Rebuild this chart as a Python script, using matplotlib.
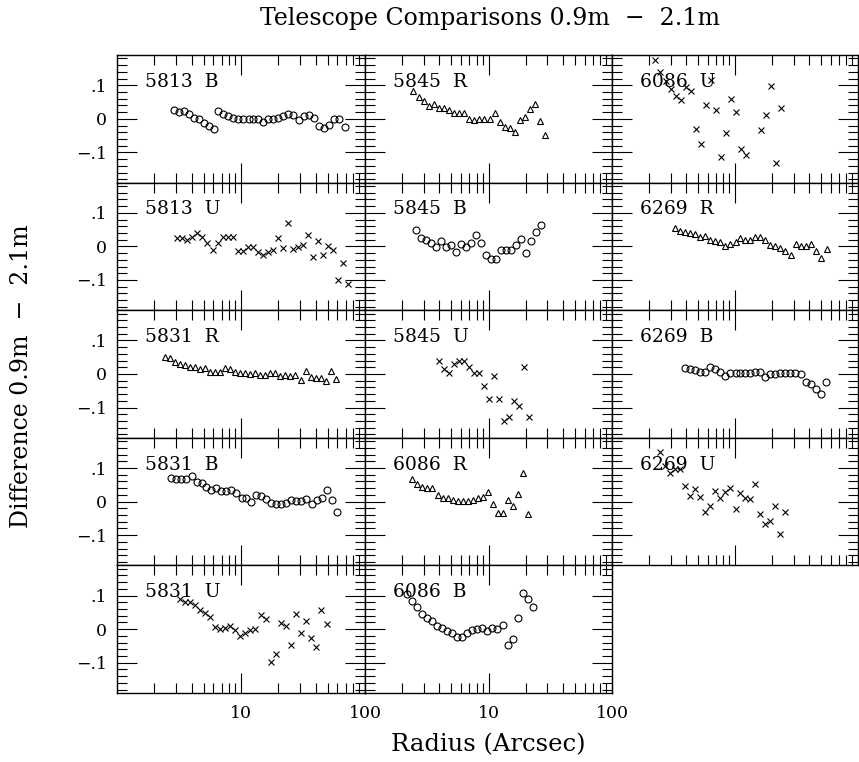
import matplotlib
matplotlib.use("Agg")
import matplotlib.pyplot as plt
from matplotlib.ticker import FixedLocator, FixedFormatter, LogLocator, NullFormatter, MultipleLocator

plt.rcParams['font.family'] = ['DejaVu Serif']

# ---------------- data (radius in arcsec, difference 0.9m - 2.1m) ----------------
r_5813_B = [2.88, 3.16, 3.47, 3.81, 4.18, 4.58, 5.03, 5.52, 6.06, 6.56, 7.20, 7.90, 8.67, 9.51, 10.4, 11.5,
            12.6, 13.8, 15.1, 16.6, 18.2, 20.0, 21.9, 24.1, 26.4, 29.4, 32.2, 35.3, 38.8, 42.6, 46.7, 51.3,
            56.2, 61.7, 69.0]
d_5813_B = [0.026, 0.020, 0.022, 0.013, 0.002, 0.0, -0.013, -0.020, -0.031, 0.022, 0.013, 0.007, 0.002, 0.0,
            0.0, 0.0, 0.0, -0.002, -0.010, 0.0, 0.0, 0.003, 0.007, 0.013, 0.010, -0.005, 0.008, 0.010, 0.002,
            -0.020, -0.027, -0.017, 0.0, 0.0, -0.023]

r_5813_U = [3.05, 3.35, 3.67, 4.03, 4.42, 4.85, 5.32, 5.91, 6.49, 7.12, 7.81, 8.57, 9.40, 10.3, 11.3, 12.4,
            13.6, 15.0, 16.4, 18.0, 19.8, 21.7, 23.9, 26.3, 28.8, 31.6, 34.7, 38.1, 41.8, 45.9, 50.3, 55.2,
            60.6, 66.5, 72.9]
d_5813_U = [0.025, 0.025, 0.020, 0.027, 0.039, 0.027, 0.011, -0.010, 0.010, 0.027, 0.027, 0.027, -0.015,
            -0.015, -0.002, -0.002, -0.017, -0.026, -0.017, -0.010, 0.025, -0.004, 0.070, -0.009, -0.002,
            0.003, 0.035, -0.033, 0.016, -0.026, 0.0, -0.012, -0.100, -0.048, -0.113]

r_5831_R = [2.42, 2.66, 2.92, 3.20, 3.51, 3.86, 4.23, 4.70, 5.16, 5.66, 6.21, 6.81, 7.47, 8.20, 9.00, 9.88,
            10.8, 11.9, 13.0, 14.3, 15.7, 17.2, 18.9, 20.8, 22.8, 25.0, 27.4, 30.5, 33.4, 36.7, 40.3, 44.2,
            48.5, 53.5, 58.7]
d_5831_R = [0.050, 0.048, 0.036, 0.030, 0.026, 0.021, 0.021, 0.014, 0.017, 0.007, 0.007, 0.007, 0.017,
            0.014, 0.007, 0.004, 0.004, -0.001, 0.004, -0.003, -0.003, 0.004, 0.004, -0.006, -0.003, -0.006,
            -0.003, -0.019, 0.009, -0.009, -0.011, -0.011, -0.021, 0.009, -0.016]

r_5831_B = [2.74, 3.01, 3.30, 3.62, 4.03, 4.42, 4.85, 5.25, 5.76, 6.32, 6.94, 7.62, 8.36, 9.17, 10.1, 11.0,
            12.1, 13.3, 14.6, 16.0, 17.6, 19.3, 21.1, 23.2, 25.5, 27.9, 30.7, 33.6, 37.4, 41.0, 45.0, 49.4,
            54.2, 59.5]
d_5831_B = [0.070, 0.068, 0.068, 0.068, 0.075, 0.058, 0.056, 0.043, 0.035, 0.041, 0.033, 0.033, 0.036,
            0.025, 0.011, 0.011, -0.001, 0.019, 0.016, 0.009, -0.003, -0.008, -0.008, -0.004, 0.004, 0.002,
            0.002, 0.007, -0.006, 0.004, 0.011, 0.035, 0.004, -0.030]

r_5831_U = [3.22, 3.54, 3.88, 4.26, 4.67, 5.12, 5.62, 6.17, 6.77, 7.43, 8.15, 8.95, 9.82, 10.8, 11.8, 13.0,
            14.5, 15.9, 17.5, 19.2, 21.0, 23.1, 25.3, 27.8, 30.5, 33.4, 36.7, 40.3, 44.2, 49.1]
d_5831_U = [0.090, 0.080, 0.080, 0.073, 0.056, 0.049, 0.036, 0.007, 0.0, 0.004, 0.010, -0.003, -0.021,
            -0.011, -0.003, 0.0, 0.041, 0.029, -0.099, -0.074, 0.017, 0.010, -0.047, 0.046, -0.011, 0.025,
            -0.027, -0.054, 0.058, 0.014]

r_5845_R = [2.47, 2.75, 3.02, 3.31, 3.64, 4.00, 4.39, 4.82, 5.29, 5.81, 6.38, 7.01, 7.70, 8.45, 9.28, 10.2,
            11.2, 12.3, 13.5, 14.8, 16.3, 17.9, 19.6, 21.5, 23.7, 26.0, 28.5]
d_5845_R = [0.082, 0.065, 0.052, 0.037, 0.045, 0.032, 0.032, 0.027, 0.016, 0.018, 0.016, 0.0, -0.004, 0.0,
            0.0, 0.0, 0.018, -0.009, -0.025, -0.028, -0.038, -0.004, 0.006, 0.030, 0.045, -0.006, -0.048]

r_5845_B = [2.57, 2.82, 3.09, 3.40, 3.73, 4.10, 4.50, 4.94, 5.42, 5.96, 6.54, 7.18, 7.89, 8.66, 9.51, 10.4,
            11.5, 12.6, 13.8, 15.2, 16.7, 18.3, 20.1, 22.1, 24.2, 26.6]
d_5845_B = [0.048, 0.026, 0.019, 0.011, -0.003, 0.017, -0.003, 0.004, -0.016, 0.007, -0.003, 0.011, 0.033,
            0.009, -0.025, -0.038, -0.038, -0.011, -0.011, -0.011, 0.004, 0.021, -0.019, 0.017, 0.043, 0.063]

r_5845_U = [3.97, 4.36, 4.79, 5.26, 5.78, 6.35, 6.97, 7.65, 8.40, 9.23, 10.1, 11.1, 12.2, 13.4, 14.7, 16.2,
            17.8, 19.5, 21.4]
d_5845_U = [0.038, 0.014, 0.002, 0.031, 0.040, 0.040, 0.022, 0.002, 0.004, -0.037, -0.073, -0.006, -0.075,
            -0.141, -0.128, -0.079, -0.096, 0.022, -0.128]

r_6086_R = [2.41, 2.65, 2.91, 3.19, 3.51, 3.90, 4.28, 4.70, 5.16, 5.67, 6.23, 6.84, 7.51, 8.25, 9.06, 9.95,
            10.9, 12.0, 13.2, 14.5, 15.9, 17.4, 19.2, 21.0]
d_6086_R = [0.066, 0.051, 0.043, 0.040, 0.040, 0.019, 0.011, 0.011, 0.004, 0.002, 0.001, 0.001, 0.004,
            0.011, 0.014, 0.030, -0.006, -0.035, -0.035, 0.006, -0.014, 0.024, 0.085, -0.038]

r_6086_B = [2.18, 2.40, 2.63, 2.89, 3.17, 3.49, 3.83, 4.20, 4.62, 5.07, 5.56, 6.11, 6.71, 7.37, 8.09, 8.89,
            9.76, 10.7, 11.8, 13.1, 14.4, 15.8, 17.3, 19.0, 20.9, 22.9]
d_6086_B = [0.106, 0.084, 0.067, 0.044, 0.032, 0.023, 0.010, 0.003, -0.005, -0.010, -0.022, -0.022, -0.010,
            -0.002, 0.0, 0.005, -0.005, 0.005, 0.0, 0.013, -0.046, -0.029, 0.032, 0.109, 0.089, 0.067]

r_6086_U = [2.24, 2.46, 2.73, 3.00, 3.29, 3.62, 3.97, 4.36, 4.79, 5.26, 5.81, 6.38, 7.01, 7.69, 8.45, 9.28,
            10.2, 11.2, 12.3, 16.3, 17.9, 19.6, 21.5, 23.7]
d_6086_U = [0.174, 0.139, 0.113, 0.090, 0.069, 0.056, 0.095, 0.082, -0.029, -0.074, 0.041, 0.115, 0.025,
            -0.113, -0.042, 0.059, 0.019, -0.089, -0.109, -0.032, 0.012, 0.097, -0.132, 0.031]

r_6269_R = [3.23, 3.55, 3.90, 4.28, 4.70, 5.16, 5.67, 6.22, 6.83, 7.50, 8.35, 9.17, 10.1, 11.0, 12.1, 13.3,
            14.6, 16.1, 17.6, 19.4, 21.3, 23.4, 25.7, 28.5, 31.3, 34.4, 37.8, 41.8, 45.8, 50.3, 56.0]
d_6269_R = [0.054, 0.046, 0.044, 0.041, 0.036, 0.029, 0.031, 0.020, 0.015, 0.013, 0.0, 0.007, 0.012, 0.025,
            0.020, 0.020, 0.027, 0.027, 0.018, 0.005, 0.002, -0.005, -0.013, -0.027, 0.007, 0.002, 0.002,
            0.007, -0.013, -0.036, -0.008]

r_6269_B = [3.90, 4.28, 4.76, 5.23, 5.74, 6.30, 6.92, 7.60, 8.35, 9.17, 10.1, 11.0, 12.1, 13.3, 14.6, 16.1,
            17.6, 19.4, 21.3, 23.4, 25.7, 28.2, 30.9, 34.4, 37.8, 41.5, 45.6, 50.3, 55.3]
d_6269_B = [0.018, 0.014, 0.011, 0.006, 0.006, 0.021, 0.016, 0.006, -0.006, 0.004, 0.004, 0.004, 0.004,
            0.004, 0.006, 0.006, -0.009, 0.001, 0.001, 0.004, 0.004, 0.004, 0.004, 0.001, -0.024, -0.031,
            -0.046, -0.061, -0.024]

r_6269_U = [2.44, 2.68, 2.94, 3.23, 3.55, 3.90, 4.28, 4.70, 5.16, 5.67, 6.22, 6.83, 7.50, 8.24, 9.05, 10.1,
            11.0, 12.1, 13.3, 14.6, 16.1, 17.6, 19.4, 21.3, 23.4, 25.7]
d_6269_U = [0.147, 0.106, 0.086, 0.098, 0.098, 0.046, 0.018, 0.037, 0.013, -0.032, -0.012, 0.032, 0.012,
            0.029, 0.041, -0.023, 0.026, 0.010, 0.007, 0.052, -0.037, -0.067, -0.057, -0.013, -0.095, -0.031]

# panel label, grid row, grid column, radius, difference
panels = [
    ("5813  B", 0, 0, r_5813_B, d_5813_B),
    ("5813  U", 1, 0, r_5813_U, d_5813_U),
    ("5831  R", 2, 0, r_5831_R, d_5831_R),
    ("5831  B", 3, 0, r_5831_B, d_5831_B),
    ("5831  U", 4, 0, r_5831_U, d_5831_U),
    ("5845  R", 0, 1, r_5845_R, d_5845_R),
    ("5845  B", 1, 1, r_5845_B, d_5845_B),
    ("5845  U", 2, 1, r_5845_U, d_5845_U),
    ("6086  R", 3, 1, r_6086_R, d_6086_R),
    ("6086  B", 4, 1, r_6086_B, d_6086_B),
    ("6086  U", 0, 2, r_6086_U, d_6086_U),
    ("6269  R", 1, 2, r_6269_R, d_6269_R),
    ("6269  B", 2, 2, r_6269_B, d_6269_B),
    ("6269  U", 3, 2, r_6269_U, d_6269_U),
]

y_ticks = [-0.1, 0.0, 0.1]
y_tick_labels = ["\u2212.1", "0", ".1"]
x_ticks = [10, 100]
x_tick_labels = ["10", "100"]

# ---------------- layout ----------------
W, H = 859, 762
fig = plt.figure(figsize=(W / 100, H / 100), dpi=100)

col_left = [117, 365, 612]
col_width = [248, 247, 246]
row_top0 = 55
row_h = 127.6

band_style = {
    "B": dict(marker="o", ms=5.0, mfc="none", mec="black", mew=0.8),
    "R": dict(marker="^", ms=4.2, mfc="none", mec="black", mew=0.8),
    "U": dict(marker="x", ms=4.0, mfc="none", mec="black", mew=0.8),
}

for label, row, col, rr, dd in panels:
    top = row_top0 + row * row_h
    ax = fig.add_axes([col_left[col] / W, 1 - (top + row_h) / H, col_width[col] / W, row_h / H])
    ax.set_xscale("log")
    ax.set_xlim(1, 100)
    ax.set_ylim(-0.19, 0.19)
    band = label.split()[-1]
    ax.plot(rr, dd, linestyle="none", color="black", **band_style[band])

    ax.xaxis.set_major_locator(FixedLocator(x_ticks))
    ax.xaxis.set_minor_locator(LogLocator(base=10, subs=[2, 3, 4, 5, 6, 7, 8, 9]))
    ax.xaxis.set_minor_formatter(NullFormatter())
    ax.yaxis.set_major_locator(FixedLocator(y_ticks))
    ax.yaxis.set_minor_locator(MultipleLocator(0.02))

    if row == 4:
        ax.xaxis.set_major_formatter(FixedFormatter(x_tick_labels))
    else:
        ax.xaxis.set_major_formatter(NullFormatter())
    if col == 0:
        ax.yaxis.set_major_formatter(FixedFormatter(y_tick_labels))
    else:
        ax.yaxis.set_major_formatter(NullFormatter())

    ax.tick_params(which="both", direction="in", top=True, right=True, width=0.8,
                   labelsize=12.5, colors="black")
    ax.tick_params(which="major", length=14.5)
    ax.tick_params(which="minor", length=7)
    ax.tick_params(axis="x", which="major", pad=9)
    ax.tick_params(axis="y", which="major", pad=7)
    for s in ax.spines.values():
        s.set_linewidth(1.0)

    ax.text(0.113, 0.75, label, transform=ax.transAxes, fontsize=13.5, ha="left", va="baseline")

fig.text(490 / W, 1 - 18 / H, "Telescope Comparisons 0.9m  \u2212  2.1m", ha="center", va="center",
         fontsize=17)
fig.text(22 / W, 1 - 376 / H, "Difference 0.9m  \u2212  2.1m", ha="center", va="center",
         rotation=90, fontsize=17)
fig.text(488 / W, 1 - 745 / H, "Radius (Arcsec)", ha="center", va="center", fontsize=17.5)

fig.savefig("out.png", dpi=100)
